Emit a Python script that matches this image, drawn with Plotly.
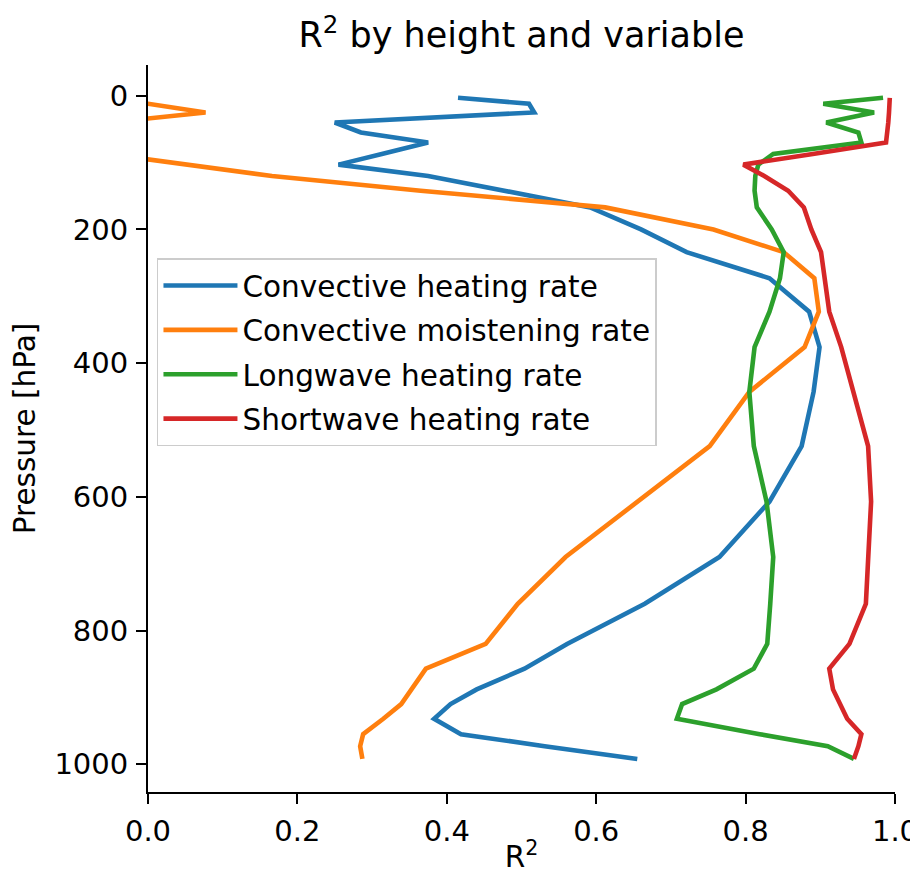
import plotly.graph_objects as go

pressure = [3, 12, 25, 40, 55, 70, 87, 103, 120, 142, 167, 200, 234, 273, 323, 376,
            443, 524, 607, 690, 760, 820, 857, 888, 910, 932, 955, 973, 992]

conv_heating = [0.415, 0.51, 0.517, 0.25, 0.285, 0.375, 0.313, 0.255, 0.375, 0.477,
                0.592, 0.66, 0.721, 0.832, 0.885, 0.899, 0.891, 0.875, 0.832, 0.765,
                0.665, 0.561, 0.504, 0.44, 0.405, 0.383, 0.419, 0.531, 0.655]

conv_moistening = [-0.3, 0.0, 0.077, -0.05, -0.3, -0.3, -0.055, 0.055, 0.166, 0.365,
                   0.612, 0.757, 0.851, 0.892, 0.898, 0.879, 0.805, 0.752, 0.655, 0.559,
                   0.495, 0.452, 0.372, 0.352, 0.339, 0.315, 0.288, 0.284, 0.287]

longwave = [0.984, 0.904, 0.972, 0.908, 0.951, 0.955, 0.837, 0.817, 0.813, 0.812,
            0.815, 0.835, 0.851, 0.846, 0.832, 0.812, 0.805, 0.811, 0.828, 0.837,
            0.833, 0.829, 0.811, 0.761, 0.715, 0.708, 0.819, 0.91, 0.945]

shortwave = [0.993, 0.993, 0.992, 0.991, 0.990, 0.988, 0.89, 0.797, 0.825, 0.857,
             0.878, 0.888, 0.901, 0.906, 0.912, 0.928, 0.945, 0.964, 0.968, 0.965,
             0.961, 0.939, 0.912, 0.917, 0.926, 0.936, 0.955, 0.951, 0.945]

series_names = ["Convective heating rate", "Convective moistening rate",
                "Longwave heating rate", "Shortwave heating rate"]
series_values = [conv_heating, conv_moistening, longwave, shortwave]
colors = ["#1f77b4", "#ff7f0e", "#2ca02c", "#d62728"]

x_ticks = [0.0, 0.2, 0.4, 0.6, 0.8, 1.0]
y_ticks = [0, 200, 400, 600, 800, 1000]

FONT = "DejaVu Sans"
FS = 29.5
TFS = 29

fig = go.Figure()
for i, (name, vals, col) in enumerate(zip(series_names, series_values, colors)):
    fig.add_trace(go.Scatter(
        x=vals, y=pressure, mode="lines", name=name,
        line=dict(color=col, width=4.6),
        legendgroup=f"g{i}",
    ))

axis_common = dict(
    showgrid=False, zeroline=False, showline=True, linecolor="black", linewidth=2,
    ticks="outside", ticklen=10, tickwidth=2, tickcolor="black",
    tickfont=dict(family=FONT, size=TFS, color="black"),
    mirror=False, ticklabeloverflow="allow", automargin=False,
)

# the page body adds an 8px offset, so the figure is 8px smaller on each axis
fig.update_layout(
    width=910, height=867,
    margin=dict(l=140, r=23, t=57, b=83, autoexpand=False),
    paper_bgcolor="white", plot_bgcolor="white",
    font=dict(family=FONT, size=FS, color="black"),
    title=dict(text="R<sup>2</sup> by height and variable",
               x=0.5, xref="paper", xanchor="center",
               y=1 - 27 / 867, yref="container", yanchor="middle",
               font=dict(family=FONT, size=35, color="black")),
    xaxis=dict(range=[0, 1], tickvals=x_ticks, tickformat=".1f",
               title=dict(text="R<sup>2</sup>", font=dict(family=FONT, size=FS), standoff=0),
               ticklabelstandoff=2,
               **axis_common),
    yaxis=dict(range=[1041.5, -46], tickvals=y_ticks,
               title=dict(text="Pressure [hPa]", font=dict(family=FONT, size=FS), standoff=10),
               ticklabelstandoff=2,
               **axis_common),
    legend=dict(x=0.012, y=0.734, xanchor="left", yanchor="top",
                bgcolor="rgba(255,255,255,0.8)", bordercolor="#cccccc", borderwidth=1.5,
                font=dict(family=FONT, size=FS, color="black"),
                itemwidth=74, tracegroupgap=3, traceorder="grouped"),
    showlegend=True,
)

fig.write_html("out.html")
